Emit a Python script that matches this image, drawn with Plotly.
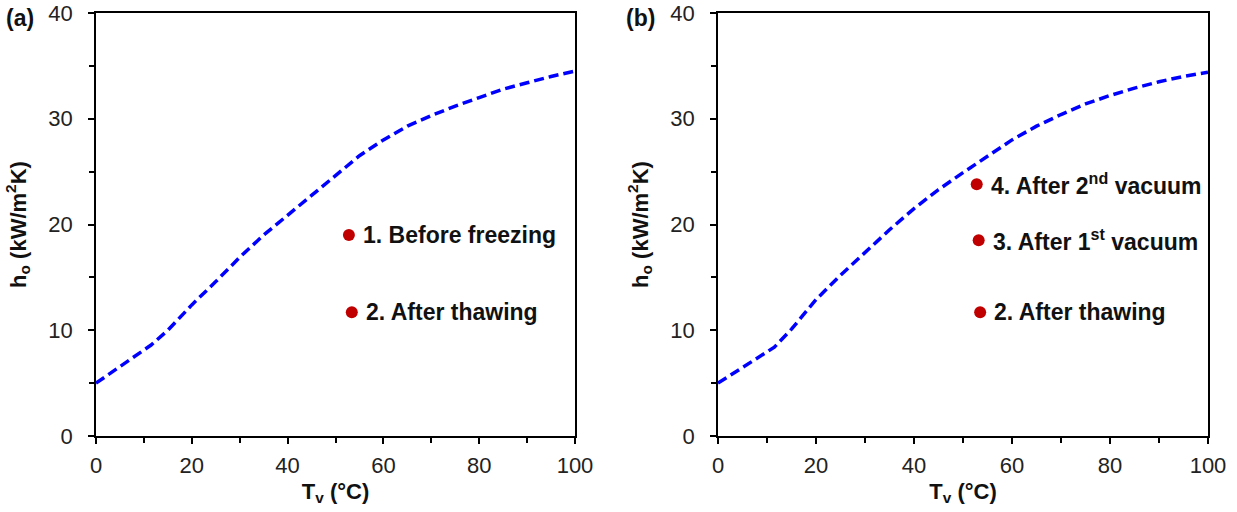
import plotly.graph_objects as go

# ---- data ----
tv_a = [0, 5, 11.5, 15, 20, 25, 30, 35, 40, 45, 50, 55, 60, 65, 70, 75, 80, 85, 90, 95, 100]
ho_a = [5.0, 6.6, 8.6, 10.0, 12.4, 14.6, 16.9, 19.0, 20.9, 22.8, 24.6, 26.5, 28.0, 29.3, 30.3, 31.2, 32.0, 32.8, 33.4, 34.0, 34.5]

tv_b = [0, 5, 11.5, 15, 20, 25, 30, 35, 40, 45, 50, 55, 60, 65, 70, 75, 80, 85, 90, 95, 100]
ho_b = [5.0, 6.5, 8.4, 10.1, 12.9, 15.2, 17.4, 19.5, 21.5, 23.3, 24.9, 26.5, 28.0, 29.3, 30.4, 31.4, 32.2, 32.9, 33.5, 34.0, 34.4]

pts_a_x = [52.8, 53.4]
pts_a_y = [19.0, 11.7]
pts_a_lbl = ["1. Before freezing", "2. After thawing"]

pts_b_x = [52.8, 53.2, 53.5]
pts_b_y = [23.8, 18.5, 11.7]
pts_b_lbl = ["4. After 2<sup>nd</sup> vacuum", "3. After 1<sup>st</sup> vacuum", "2. After thawing"]

x_ticks = [0, 20, 40, 60, 80, 100]
y_ticks = [0, 10, 20, 30, 40]

FONT = "Arial, Liberation Sans, sans-serif"
W, H = 1237, 512
top, bottom = 13, 436

fig = go.Figure()

line_style = dict(color="#0000FF", width=3.5, dash="10px,5px")
marker_style = dict(color="#C00000", size=12, line=dict(width=0))

fig.add_trace(go.Scatter(x=tv_a, y=ho_a, mode="lines", line=line_style,
                         xaxis="x", yaxis="y", showlegend=False))
fig.add_trace(go.Scatter(x=pts_a_x, y=pts_a_y, mode="markers", marker=marker_style,
                         xaxis="x", yaxis="y", showlegend=False))
fig.add_trace(go.Scatter(x=tv_b, y=ho_b, mode="lines", line=line_style,
                         xaxis="x2", yaxis="y2", showlegend=False))
fig.add_trace(go.Scatter(x=pts_b_x, y=pts_b_y, mode="markers", marker=marker_style,
                         xaxis="x2", yaxis="y2", showlegend=False))

annotations = []
for xv, yv, t in zip(pts_a_x, pts_a_y, pts_a_lbl):
    annotations.append(dict(x=xv, y=yv, xref="x", yref="y", text="<b>" + t + "</b>", showarrow=False,
                            xanchor="left", yanchor="middle", xshift=12,
                            font=dict(family=FONT, size=23, color="#111")))
for xv, yv, t in zip(pts_b_x, pts_b_y, pts_b_lbl):
    annotations.append(dict(x=xv, y=yv, xref="x2", yref="y2", text="<b>" + t + "</b>", showarrow=False,
                            xanchor="left", yanchor="middle", xshift=12,
                            font=dict(family=FONT, size=23, color="#111")))

panel_y = (bottom - 18) / (bottom - top)
annotations.append(dict(x=4 / W, y=panel_y, xref="paper", yref="paper",
                        text="<b>(a)</b>", showarrow=False, xanchor="left", yanchor="middle",
                        font=dict(family=FONT, size=23, color="#111")))
annotations.append(dict(x=624 / W, y=panel_y, xref="paper", yref="paper",
                        text="<b>(b)</b>", showarrow=False, xanchor="left", yanchor="middle",
                        font=dict(family=FONT, size=23, color="#111")))


def xax(domain, anchor):
    return dict(domain=domain, anchor=anchor, range=[0, 100], tickvals=x_ticks,
                showline=True, linecolor="black", linewidth=1.8, mirror=True,
                ticks="outside", ticklen=6, tickwidth=1.8, tickcolor="black",
                minor=dict(ticks="outside", dtick=10, ticklen=5, tickwidth=1.8, tickcolor="black"),
                showgrid=False, zeroline=False,
                tickfont=dict(family=FONT, size=22, color="#222"),
                ticklabelstandoff=3, ticklabeloverflow="allow",
                title=dict(text="<b>T<sub>v</sub> (°C)</b>", standoff=6,
                           font=dict(family=FONT, size=22, color="#111")))


def yax(domain, anchor):
    return dict(domain=domain, anchor=anchor, range=[0, 40], tickvals=y_ticks,
                showline=True, linecolor="black", linewidth=1.8, mirror=True,
                ticks="outside", ticklen=6, tickwidth=1.8, tickcolor="black",
                minor=dict(ticks="outside", dtick=5, ticklen=5, tickwidth=1.8, tickcolor="black"),
                showgrid=False, zeroline=False,
                tickfont=dict(family=FONT, size=22, color="#222"),
                ticklabelstandoff=11, ticklabeloverflow="allow",
                title=dict(text="<b>h<sub>o</sub> (kW/m<sup>2</sup>K)</b>", standoff=16,
                           font=dict(family=FONT, size=22, color="#111")))


fig.update_layout(
    width=W, height=H,
    margin=dict(l=0, r=0, t=top, b=H - bottom, autoexpand=False),
    paper_bgcolor="white", plot_bgcolor="white",
    xaxis=xax([96 / W, 575 / W], "y"),
    yaxis=yax([0, 1], "x"),
    xaxis2=xax([718 / W, 1208 / W], "y2"),
    yaxis2=yax([0, 1], "x2"),
    annotations=annotations,
    font=dict(family=FONT),
)

fig.write_html("out.html", config={"displayModeBar": False},
               post_script="document.body.style.margin='0px';")
